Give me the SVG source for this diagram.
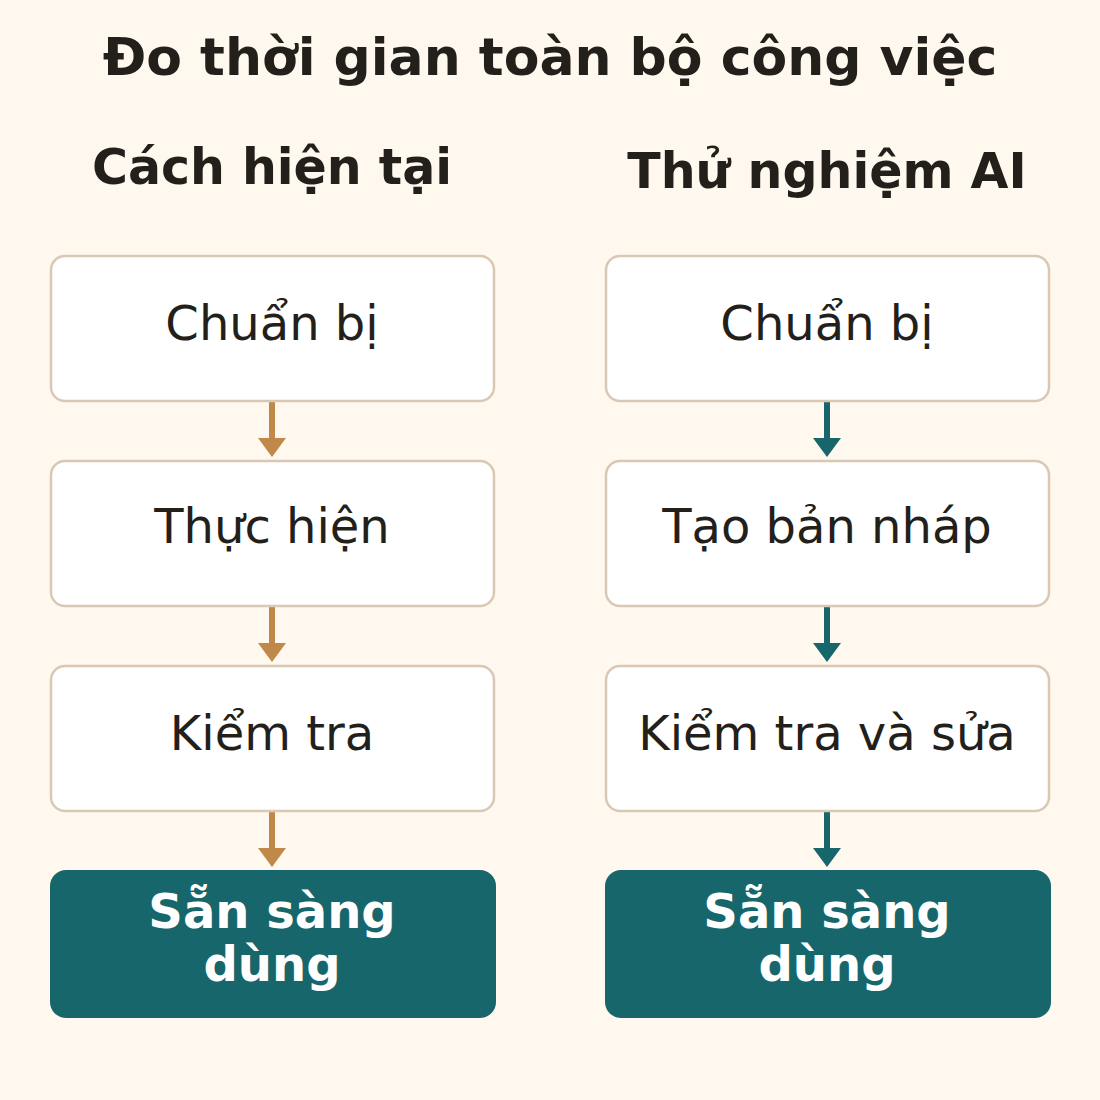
<svg xmlns="http://www.w3.org/2000/svg" width="1100" height="1100" viewBox="0 0 1100 1100">
<style>
.t{font-family:"DejaVu Sans",sans-serif;fill:#231F1A;text-anchor:middle}
.h{font-weight:bold;font-size:49px}
.ti{font-weight:bold;font-size:52px}
.b{font-size:48px}
.box{fill:#FFFFFF;stroke:#D9C8B4;stroke-width:2.5}
.fin{fill:#17666B}
.w{font-family:"DejaVu Sans",sans-serif;fill:#FFFFFF;font-weight:bold;font-size:48px;text-anchor:middle}
.la{stroke:#C0894A;stroke-width:6}
.ra{stroke:#17666B;stroke-width:6}
</style>
<rect width="1100" height="1100" fill="#FFF8EF"/>
<text class="t ti" x="550" y="75">Đo thời gian toàn bộ công việc</text>
<text class="t h" x="272" y="184">Cách hiện tại</text>
<text class="t h" x="827" y="188">Thử nghiệm AI</text>
<g id="connectors">
<line class="la" x1="272" y1="402" x2="272" y2="440"/><path d="M258,438 L286,438 L272,457 Z" fill="#C0894A"/>
<line class="la" x1="272" y1="607" x2="272" y2="645"/><path d="M258,643 L286,643 L272,662 Z" fill="#C0894A"/>
<line class="la" x1="272" y1="812" x2="272" y2="850"/><path d="M258,848 L286,848 L272,867 Z" fill="#C0894A"/>
<line class="ra" x1="827" y1="402" x2="827" y2="440"/><path d="M813,438 L841,438 L827,457 Z" fill="#17666B"/>
<line class="ra" x1="827" y1="607" x2="827" y2="645"/><path d="M813,643 L841,643 L827,662 Z" fill="#17666B"/>
<line class="ra" x1="827" y1="812" x2="827" y2="850"/><path d="M813,848 L841,848 L827,867 Z" fill="#17666B"/>
</g>
<g id="l1"><rect class="box" x="51" y="256" width="443" height="145" rx="14"/><text class="t b" x="272" y="340">Chuẩn bị</text></g>
<g id="l2"><rect class="box" x="51" y="461" width="443" height="145" rx="14"/><text class="t b" x="272" y="543">Thực hiện</text></g>
<g id="l3"><rect class="box" x="51" y="666" width="443" height="145" rx="14"/><text class="t b" x="272" y="750">Kiểm tra</text></g>
<g id="l4"><rect class="fin" x="50" y="870" width="446" height="148" rx="16"/><text class="w" x="272" y="928">Sẵn sàng</text><text class="w" x="272" y="981">dùng</text></g>
<g id="r1"><rect class="box" x="606" y="256" width="443" height="145" rx="14"/><text class="t b" x="827" y="340">Chuẩn bị</text></g>
<g id="r2"><rect class="box" x="606" y="461" width="443" height="145" rx="14"/><text class="t b" x="827" y="543">Tạo bản nháp</text></g>
<g id="r3"><rect class="box" x="606" y="666" width="443" height="145" rx="14"/><text class="t b" x="827" y="750">Kiểm tra và sửa</text></g>
<g id="r4"><rect class="fin" x="605" y="870" width="446" height="148" rx="16"/><text class="w" x="827" y="928">Sẵn sàng</text><text class="w" x="827" y="981">dùng</text></g>
</svg>
